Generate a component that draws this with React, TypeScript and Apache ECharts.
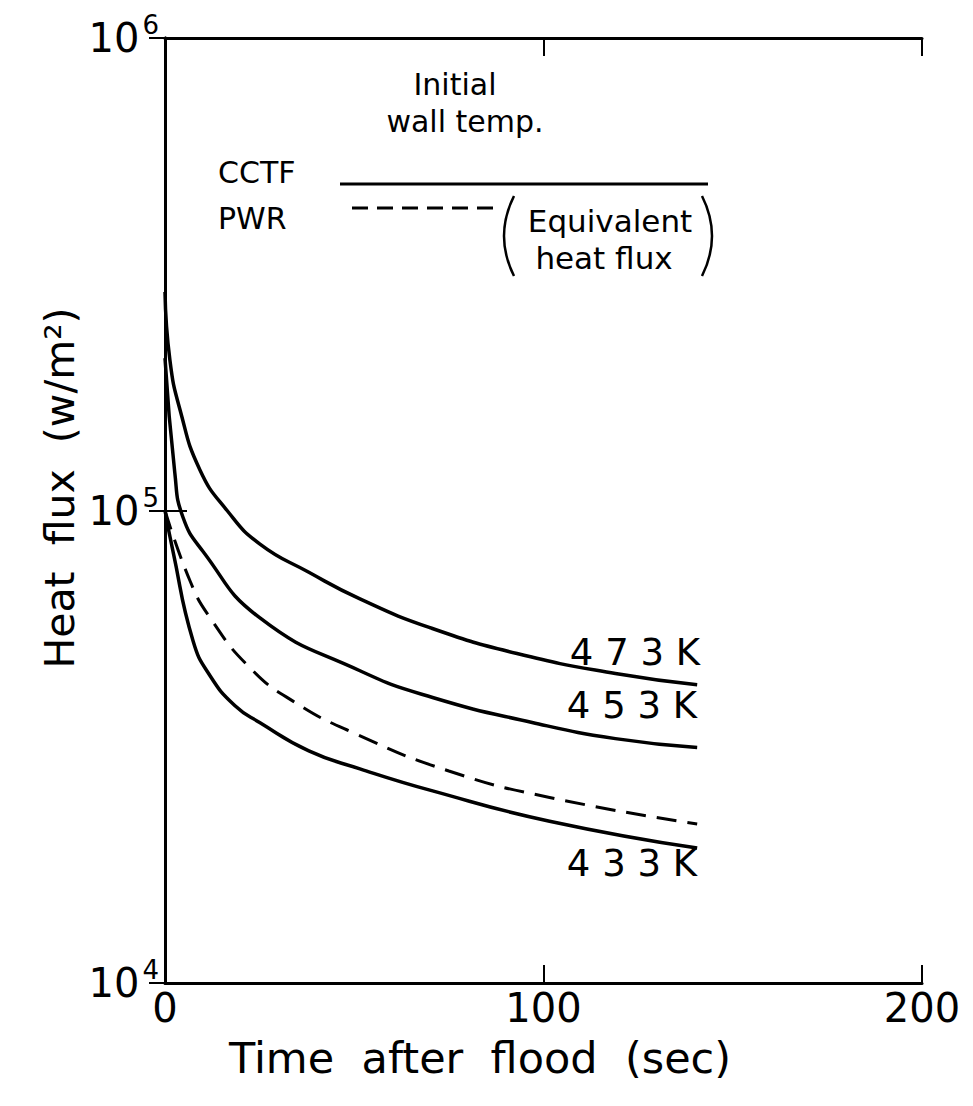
import React, { useEffect, useRef } from "react";
import * as echarts from "echarts";

// Time after flood (sec) and heat flux (W/m^2)
const t473 = [0, 1.3, 4, 9.2, 16.4, 25, 38, 51.5, 70, 93, 119, 140.6];
const q473 = [2.9e5, 2.08e5, 1.63e5, 1.22e5, 1.0e5, 8.5e4, 7.4e4, 6.5e4, 5.65e4, 4.98e4, 4.52e4, 4.28e4];

const t453 = [0, 2.6, 4.7, 10, 25, 51.5, 70.7, 97, 119, 140.6];
const q453 = [2.1e5, 1.2e5, 9.7e4, 8.2e4, 5.93e4, 4.58e4, 4.02e4, 3.56e4, 3.29e4, 3.15e4];

const tPWR = [0, 6.6, 11.9, 22.4, 33.8, 49.6, 75, 101.6, 140.6];
const qPWR = [1.0e5, 7.1e4, 5.93e4, 4.65e4, 3.95e4, 3.39e4, 2.81e4, 2.47e4, 2.17e4];

const t433 = [0, 2.1, 7.4, 11.9, 18.5, 25, 38, 51.5, 70.7, 101.6, 140.6];
const q433 = [1.0e5, 8.2e4, 5.3e4, 4.47e4, 3.86e4, 3.56e4, 3.1e4, 2.84e4, 2.55e4, 2.2e4, 1.93e4];

const xTicks = [0, 100, 200];
const curveLabels = ["4 7 3 K", "4 5 3 K", "4 3 3 K"];
const FONT = "DejaVu Sans";

const zip = (t: number[], q: number[]) => t.map((v, i) => [v, q[i]]);

export default function App() {
  const ref = useRef<HTMLDivElement>(null);
  useEffect(() => {
    if (!ref.current) return;
    const chart = echarts.init(ref.current, null, { renderer: "svg" });
    const axisLine = { show: true, lineStyle: { color: "#000", width: 3 } };
    const lineStyle = { color: "#000", width: 3.5 };
    const solid = (name: string, data: number[][]) => ({
      name,
      type: "line",
      data,
      smooth: 0.5,
      showSymbol: false,
      symbol: "none",
      lineStyle,
      z: 3,
    });
    const txt = (x: number, y: number, text: string, size: number, align = "center", extra: any = {}) => ({
      type: "text",
      x,
      y,
      ...extra,
      style: { text, font: `${size}px ${FONT}`, fill: "#000", align, verticalAlign: "middle" },
    });
    chart.setOption({
      animation: false,
      backgroundColor: "#fff",
      grid: { left: 165, top: 38, width: 757, height: 945 },
      xAxis: [
        {
          type: "value",
          min: 0,
          max: 200,
          interval: 100,
          position: "bottom",
          axisLine,
          axisTick: { show: true, inside: true, length: 18, lineStyle: { color: "#000", width: 2 } },
          splitLine: { show: false },
          axisLabel: {
            margin: 5,
            fontFamily: FONT,
            fontSize: 40,
            color: "#000",
            formatter: (v: number) => (xTicks.includes(v) ? String(v) : ""),
          },
        },
        {
          type: "value",
          min: 0,
          max: 200,
          interval: 100,
          position: "top",
          axisLine,
          axisTick: { show: true, inside: true, length: 18, lineStyle: { color: "#000", width: 2 } },
          splitLine: { show: false },
          axisLabel: { show: false },
        },
      ],
      yAxis: [
        {
          type: "log",
          logBase: 10,
          min: 1e4,
          max: 1e6,
          position: "left",
          axisLine,
          axisTick: { show: true, inside: true, length: 22, lineStyle: { color: "#000", width: 2 } },
          minorTick: { show: false },
          splitLine: { show: false },
          axisLabel: {
            margin: 6,
            color: "#000",
            formatter: (v: number) => `{b|10}{s|${Math.round(Math.log10(v))}}`,
            rich: {
              b: { fontFamily: FONT, fontSize: 40, color: "#000" },
              s: { fontFamily: FONT, fontSize: 26, color: "#000", padding: [0, 0, 26, 3] },
            },
          },
        },
        {
          type: "log",
          logBase: 10,
          min: 1e4,
          max: 1e6,
          position: "right",
          axisLine,
          axisTick: { show: true, inside: true, length: 16, lineStyle: { color: "#000", width: 2 } },
          splitLine: { show: false },
          axisLabel: { show: false },
        },
      ],
      series: [
        solid("473 K", zip(t473, q473)),
        solid("453 K", zip(t453, q453)),
        {
          name: "PWR",
          type: "line",
          data: zip(tPWR, qPWR),
          smooth: 0.5,
          showSymbol: false,
          symbol: "none",
          lineStyle: { color: "#000", width: 3, type: [20, 11] },
          z: 3,
        },
        solid("433 K", zip(t433, q433)),
      ],
      graphic: [
        txt(455, 84, "Initial", 30),
        txt(465, 121, "wall temp.", 30),
        txt(218, 172, "CCTF", 30, "left"),
        txt(218, 218, "PWR", 30, "left"),
        { type: "line", shape: { x1: 340, y1: 184, x2: 708, y2: 184 }, style: { stroke: "#000", lineWidth: 3 } },
        { type: "line", shape: { x1: 352, y1: 208, x2: 497, y2: 208 }, style: { stroke: "#000", lineWidth: 3, lineDash: [16, 9] } },
        { type: "bezierCurve", shape: { x1: 514, y1: 196, cpx1: 494, cpy1: 236, x2: 514, y2: 276 }, style: { stroke: "#000", lineWidth: 2.5, fill: "none" } },
        { type: "bezierCurve", shape: { x1: 702, y1: 196, cpx1: 722, cpy1: 236, x2: 702, y2: 276 }, style: { stroke: "#000", lineWidth: 2.5, fill: "none" } },
        txt(610, 221, "Equivalent", 31),
        txt(604, 258, "heat flux", 31),
        txt(700, 652, curveLabels[0], 37, "right"),
        txt(697, 705, curveLabels[1], 37, "right"),
        txt(697, 863, curveLabels[2], 37, "right"),
        txt(480, 1058, "Time  after  flood  (sec)", 43),
        txt(60, 488, "Heat  flux  (w/m²)", 41, "center", { rotation: Math.PI / 2 }),
      ],
    });
    return () => chart.dispose();
  }, []);
  return (
    <div
      ref={ref}
      style={{ position: "fixed", left: 0, top: 0, width: 973, height: 1106, background: "#fff" }}
    />
  );
}
